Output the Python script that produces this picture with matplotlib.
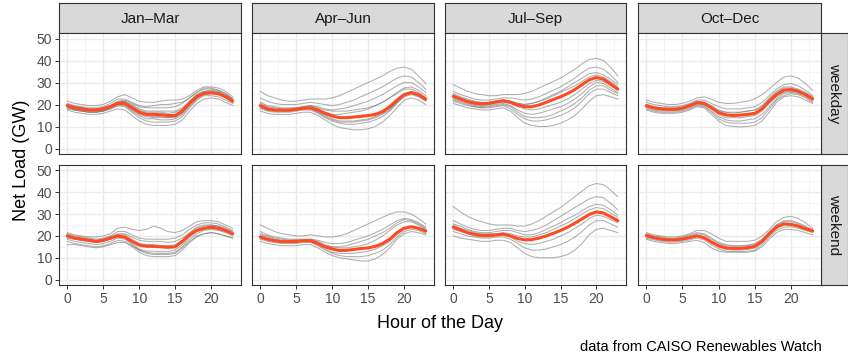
import matplotlib.pyplot as plt
from matplotlib.ticker import MultipleLocator

plt.rcParams['font.family'] = ['Liberation Sans', 'DejaVu Sans']

hours = list(range(24))
quarters = ['Jan\u2013Mar', 'Apr\u2013Jun', 'Jul\u2013Sep', 'Oct\u2013Dec']
day_types = ['weekday', 'weekend']

# mean net load per hour (red line)
jan_mar_weekday_mean = [19.5, 18.5, 18, 17.5, 17.5, 18, 19, 20.5, 20.5, 18.5, 16.5, 15.5, 15.5, 15.3, 15, 15, 17, 20.5, 23.5, 25, 25.3, 25, 23.5, 21.5]
jan_mar_weekend_mean = [20, 19, 18.5, 18, 17.5, 18, 19, 20, 19.5, 17.5, 15.8, 15.3, 15.2, 15, 14.8, 15, 17.5, 20.5, 22.5, 23.5, 24, 23.5, 22.5, 21]
apr_jun_weekday_mean = [19.5, 18, 17.5, 17.5, 17.5, 17.8, 18.3, 18.5, 17.5, 16, 14.8, 14, 14, 14.3, 14.6, 15, 15.5, 16.8, 19, 22, 24.5, 25.5, 24.5, 22.5]
apr_jun_weekend_mean = [19.5, 18.5, 17.8, 17.4, 17.4, 17.5, 17.8, 17.8, 16.5, 15, 14, 13.3, 13.4, 13.8, 14.2, 14.5, 15.2, 16.5, 18.5, 21.5, 23.5, 24.2, 23.5, 22.3]
jul_sep_weekday_mean = [23.7, 22.5, 21.3, 20.6, 20.3, 20.5, 21.2, 21.7, 21, 19.8, 19, 19, 19.8, 21, 22.3, 23.5, 25, 26.8, 29, 31.2, 32.3, 31.5, 29.3, 27]
jul_sep_weekend_mean = [24, 22.8, 21.5, 20.7, 20.2, 20.2, 20.5, 20.8, 20, 18.8, 18.2, 18.3, 19, 20, 21.2, 22.5, 24, 25.8, 27.8, 29.8, 31, 30.5, 28.8, 27]
oct_dec_weekday_mean = [19.4, 18.5, 18, 17.8, 17.8, 18.3, 19.5, 20.8, 20.5, 18.5, 16.3, 15.3, 15, 15.2, 15.5, 16, 18, 21.5, 24.5, 26.5, 26.8, 26, 24.5, 22.6]
oct_dec_weekend_mean = [20.2, 19.2, 18.6, 18.2, 18.2, 18.6, 19.3, 20, 19.2, 17.2, 15.5, 14.5, 14.3, 14.3, 14.6, 15.2, 17.5, 21, 24, 25.5, 25.3, 24.5, 23.3, 22.3]

# individual days (grey lines)
jan_mar_weekday_days = [
    [21.5, 20.5, 20, 19.5, 19.5, 20, 21.5, 23.5, 24.5, 23, 21.5, 21, 21, 21.5, 22, 22, 22.5, 24, 26.5, 28, 28, 27.5, 26, 23.5],
    [20.5, 19.5, 19, 18.5, 18.5, 19, 20.5, 22.5, 22.5, 20.5, 19, 18.5, 18.5, 18.5, 18.5, 19, 20.5, 23, 25.5, 27, 27, 26.5, 25, 22.5],
    [19.5, 18.5, 18, 17.5, 17.5, 18, 19.5, 21, 21, 19, 17, 16, 16, 15.8, 15.5, 15.5, 17.5, 21, 24, 25.5, 25.5, 25, 23.5, 21.5],
    [19, 18, 17.5, 17, 17, 17.5, 18.5, 20, 20, 18, 16, 15, 14.5, 14.5, 14, 14.5, 16.5, 20, 23, 24.5, 25, 24.5, 23, 21],
    [18, 17.5, 17, 16.5, 16.5, 17, 18, 19.5, 19, 16.5, 14, 12.5, 12, 12, 12, 12.5, 14.5, 18.5, 22, 24, 24, 23.5, 22, 20.5],
    [17.5, 16.5, 16, 15.5, 15.5, 16, 17, 18, 17.5, 15, 12.5, 11, 10.5, 10.5, 10.5, 11, 13, 17, 20.5, 22.5, 23, 22.5, 21, 19.5],
    [20, 19, 18.5, 18, 18, 18.5, 19.5, 21, 21.5, 20, 18, 17, 17, 17, 17, 17, 18.5, 21.5, 24.5, 26, 26.5, 26, 24.5, 22.5],
    [18.5, 17.5, 17, 16.5, 16.5, 17, 18, 19.5, 19.5, 17, 15, 13.5, 13.5, 13, 13, 13.5, 15.5, 19, 22.5, 25, 25.5, 25, 23.5, 21.5],
    [19, 18, 17.5, 17, 17, 17.5, 19, 21, 21.5, 19.5, 17.5, 16.5, 16.5, 16.5, 16, 16.5, 18, 21.5, 24.5, 26, 26, 25.5, 24, 22],
    [18.5, 17.5, 17, 16.5, 16.5, 17, 18.5, 20.5, 20, 17.5, 15.5, 14.5, 14, 14, 14, 14, 16, 20, 23.5, 25.5, 26, 25.5, 24, 22],
    [20, 19, 18.5, 18, 18, 18.5, 19.5, 21.5, 22, 21, 19.5, 19, 19.5, 20, 20, 20.5, 21, 23, 25.5, 27.5, 27.5, 26.5, 25, 22.5],
]
jan_mar_weekend_days = [
    [21.5, 20.5, 20, 19.5, 19.5, 20, 21, 23.5, 24, 23, 22.5, 23, 24.5, 23.5, 22, 21.5, 22.5, 24.5, 26.5, 27, 27, 26.5, 25, 23.5],
    [21, 20, 19.5, 19, 18.5, 19, 20, 22, 22, 20.5, 19, 18.5, 18.5, 18.5, 18.5, 19, 20.5, 23, 25, 26, 26, 25.5, 24, 22.5],
    [20, 19, 18.5, 18, 17.5, 18, 19, 20, 19.5, 17.5, 15.5, 15, 15, 14.8, 14.5, 15, 17, 20.5, 22.5, 23.5, 24, 23.5, 22.5, 21],
    [19, 18.5, 18, 17.5, 17, 17.5, 18.5, 19.5, 19, 16.5, 14, 13, 13, 12.8, 12.8, 13.5, 16, 19.5, 22, 23, 23.5, 23, 22, 20.5],
    [17.5, 16.5, 16, 15.5, 15, 15.5, 16.5, 18, 17.5, 15, 12.5, 11, 10.5, 10.5, 10.5, 11, 13.5, 17, 19.5, 21, 21.5, 21, 20, 19],
    [16, 16, 15.5, 15, 14.5, 15, 16, 17, 17, 15.5, 13.5, 12, 11.5, 11.5, 11.5, 12, 14.5, 17.5, 20, 21, 21.5, 21, 20, 19],
    [20.5, 19.5, 19, 18.5, 18, 18.5, 19.5, 21, 21, 19.5, 18, 17.5, 17.5, 17.5, 17, 17.5, 19, 21.5, 24, 25, 25, 24.5, 23.5, 22],
    [19.5, 18.5, 18, 17.5, 17, 17.5, 18.5, 20.5, 20.5, 18.5, 16.5, 16, 16, 15.5, 15.5, 16, 18, 21, 23.5, 24.5, 25, 24.5, 23, 21.5],
    [18.5, 17.5, 17, 16.5, 16, 16.5, 17.5, 19, 18.5, 16, 13.5, 12.5, 12, 12, 12, 12.5, 15, 18.5, 21, 22.5, 23, 22.5, 21.5, 20],
]
apr_jun_weekday_days = [
    [26, 24, 23, 22, 21.5, 21.5, 22, 22.5, 22.5, 22.5, 23, 24, 25.5, 27, 28.5, 30, 31.5, 33, 35, 36.5, 37, 36, 33, 29.5],
    [23, 21.5, 20.5, 20, 20, 20, 20.5, 21, 20.5, 20, 19.5, 20, 21, 22, 23.5, 25, 26.5, 28, 30, 32, 33, 32.5, 30, 27],
    [21, 19.5, 19, 18.5, 18.5, 18.5, 19, 19.5, 18.5, 17.5, 17, 17, 17, 17.5, 18, 18.5, 19.5, 21, 23, 25.5, 27.5, 28, 26.5, 24],
    [19.5, 18, 17.5, 17.5, 17.5, 17.8, 18.3, 18.5, 17, 15.5, 14.5, 14, 14, 14, 14.5, 15, 15.5, 16.5, 18.5, 21.5, 24.5, 25.5, 24.5, 22.5],
    [18, 17, 16.5, 16.5, 16.5, 17, 17.5, 17.5, 16, 14, 12.5, 11.5, 11, 11, 11.5, 12, 13, 14.5, 17, 20.5, 23.5, 24.5, 23.5, 21.5],
    [17, 16, 15.5, 15.5, 15.5, 16, 16.5, 16.5, 15, 13, 11, 9.5, 9, 8.5, 8.5, 9, 10, 12, 15, 18.5, 22, 23, 22, 20],
    [20, 18.5, 18, 17.5, 17.5, 18, 18.5, 19, 18, 16.5, 15.5, 15.5, 16, 16.5, 17, 18, 19.5, 21, 23, 25, 27, 27, 25.5, 23],
    [19, 17.5, 17, 17, 17, 17.5, 18, 18, 16.5, 15, 13.5, 12.5, 12.5, 12.5, 13, 13.5, 14.5, 16, 18, 21, 24, 25, 24, 22],
    [20.5, 19, 18.5, 18, 18, 18.5, 19, 19.5, 19, 18, 17.5, 18, 18.5, 19.5, 20.5, 21.5, 23, 24.5, 26.5, 28.5, 30, 30, 28, 25.5],
    [18.5, 17.5, 17, 17, 17, 17.5, 18, 18, 16.5, 14.5, 13, 12, 12, 12, 12.5, 13, 14, 15.5, 17.5, 21, 24, 25, 24, 22],
]
apr_jun_weekend_days = [
    [25, 23.5, 22, 21, 20.5, 20, 20, 20.5, 20, 19.5, 19.5, 20, 21, 22.5, 24, 25.5, 27, 28.5, 30, 31, 31, 30, 28, 25.5],
    [22, 20.5, 19.5, 19, 18.5, 18.5, 18.5, 18.5, 18, 17, 16.5, 16.5, 17, 18, 19, 20, 21.5, 23, 25, 27, 28, 27.5, 26, 24],
    [19.5, 18.5, 17.8, 17.4, 17.4, 17.5, 17.8, 17.8, 16.5, 15, 14, 13.3, 13.4, 13.8, 14.2, 14.5, 15.2, 16.5, 18.5, 21.5, 23.5, 24.2, 23.5, 22.3],
    [18.5, 17.5, 17, 16.5, 16.5, 16.5, 17, 17, 15.5, 13.5, 12, 11, 10.5, 10.5, 10.5, 11, 12, 13.5, 16, 19.5, 22, 23, 22.5, 21],
    [17.5, 16.5, 16, 15.5, 15.5, 15.5, 16, 16, 14.5, 12.5, 11, 10, 9.5, 9, 8.5, 8.5, 9.5, 11.5, 14.5, 18.5, 21, 22, 21.5, 20.5],
    [20.5, 19.5, 18.5, 18, 18, 18, 18, 18.5, 17.5, 16, 15, 14.5, 14.5, 15, 15.5, 16.5, 18, 20, 22.5, 25, 26.5, 26.5, 25, 23],
    [19, 18, 17.5, 17, 17, 17, 17.5, 17.5, 16, 14, 12.5, 12, 12, 12, 12.5, 13, 14, 15.5, 17.5, 20.5, 23, 24, 23, 21.5],
    [21, 20, 19, 18.5, 18, 18, 18, 18, 17, 15.5, 15, 15, 15.5, 16.5, 17.5, 18.5, 20, 21.5, 23.5, 26, 27.5, 27, 25.5, 23.5],
]
jul_sep_weekday_days = [
    [29, 27.5, 26, 25, 24.5, 24, 24, 24.5, 24.5, 24.5, 25, 26, 27.5, 29, 30.5, 32, 34, 36, 38.5, 40.5, 41, 40, 37, 33],
    [26, 24.5, 23.5, 22.5, 22, 22, 22.5, 23, 23, 22.5, 22, 22.5, 23.5, 25, 26.5, 28, 30, 32, 34.5, 36.5, 37, 36, 33.5, 30],
    [23.7, 22.5, 21.3, 20.6, 20.3, 20.5, 21.2, 21.7, 21, 19.8, 19, 19, 19.8, 21, 22.3, 23.5, 25, 26.8, 29, 31.2, 32.3, 31.5, 29.3, 27],
    [22.5, 21.5, 20.5, 19.5, 19, 19.5, 20, 20.5, 19.5, 17.5, 16, 15.5, 16, 17, 18, 19, 20.5, 22.5, 25, 28, 30, 29.5, 27.5, 25.5],
    [21.5, 20.5, 19.5, 19, 18.5, 18.5, 19, 19.5, 18, 15.5, 13.5, 12.5, 12.5, 13, 14, 15, 16.5, 18.5, 21.5, 25, 27, 27, 25.5, 24],
    [20.5, 19.5, 18.5, 18, 17.5, 17.5, 18, 18.5, 17, 14, 11.5, 10.5, 10, 10, 10.5, 11.5, 13, 15, 18, 21.5, 24, 24.5, 23.5, 22.5],
    [25, 23.5, 22.5, 21.5, 21, 21, 21.5, 22, 21.5, 20.5, 20, 20.5, 21.5, 23, 24.5, 26, 28, 30, 32, 34, 34.5, 33.5, 31.5, 29],
    [23, 22, 21, 20, 19.5, 20, 20.5, 21, 20.5, 19, 18, 17.5, 18, 19, 20, 21, 22.5, 24.5, 27, 29.5, 31, 30.5, 28.5, 26.5],
    [24.5, 23, 22, 21, 20.5, 21, 21.5, 22, 21.5, 20.5, 20, 20.5, 21.5, 22.5, 24, 25.5, 27, 28.5, 30.5, 32.5, 33.5, 32.5, 30.5, 28],
    [22, 21, 20, 19, 18.5, 19, 19.5, 20, 19, 16.5, 14.5, 14, 14, 14.5, 15.5, 17, 18.5, 20.5, 23, 26.5, 28.5, 28.5, 26.5, 25],
]
jul_sep_weekend_days = [
    [33.5, 31, 29, 27.5, 26.5, 25.5, 25, 25, 25, 24.5, 24.5, 25.5, 27, 29, 31, 33, 35.5, 38, 40.5, 43, 44, 43.5, 41, 38],
    [27, 25.5, 24, 23, 22.5, 22.5, 23, 23.5, 23.5, 22.5, 22, 22.5, 23.5, 25, 27, 29, 31, 33, 35, 37, 38, 37.5, 35, 32],
    [24, 22.8, 21.5, 20.7, 20.2, 20.2, 20.5, 20.8, 20, 18.8, 18.2, 18.3, 19, 20, 21.2, 22.5, 24, 25.8, 27.8, 29.8, 31, 30.5, 28.8, 27],
    [22, 21, 20, 19.5, 19, 19, 19.5, 19.5, 18.5, 16.5, 14.5, 13.5, 13.5, 14, 15, 16, 17.5, 19.5, 22, 25, 27, 27, 25.5, 24],
    [20, 19, 18.5, 18, 17.5, 17.5, 18, 18, 17, 14.5, 12, 10.5, 10, 10, 10, 10.5, 11.5, 13.5, 16.5, 20.5, 23, 23.5, 22.5, 21.5],
    [25.5, 24.5, 23, 22, 21.5, 21.5, 22, 22.5, 22.5, 21.5, 20.5, 20.5, 21.5, 23, 24.5, 26, 28, 29.5, 31.5, 33.5, 34.5, 34, 32, 29.5],
    [23, 22, 21, 20, 19.5, 19.5, 20, 20.5, 19.5, 17.5, 16.5, 16, 16.5, 17.5, 18.5, 20, 21.5, 23.5, 25.5, 28, 29.5, 29, 27.5, 26],
    [25, 23.5, 22.5, 21.5, 21, 21, 21, 21.5, 21, 20, 19.5, 19.5, 20.5, 21.5, 23, 24.5, 26, 28, 30, 32, 33, 32.5, 30.5, 28.5],
]
oct_dec_weekday_days = [
    [22, 21, 20.5, 20, 20, 20.5, 21.5, 23, 23.5, 22.5, 21, 20.5, 20.5, 21, 21.5, 22.5, 24.5, 27, 30, 32.5, 33, 32, 29.5, 26.5],
    [21, 20, 19.5, 19, 19, 19.5, 20.5, 22, 22, 20.5, 19, 18, 18, 18, 18.5, 19, 21, 24, 27, 29, 29.5, 28.5, 26.5, 24],
    [19.4, 18.5, 18, 17.8, 17.8, 18.3, 19.5, 20.8, 20.5, 18.5, 16.3, 15.3, 15, 15.2, 15.5, 16, 18, 21.5, 24.5, 26.5, 26.8, 26, 24.5, 22.6],
    [18.5, 17.5, 17, 17, 17, 17.5, 18.5, 20, 19.5, 17, 14.5, 13, 12.5, 12.5, 13, 13.5, 15.5, 19, 22.5, 25, 25.5, 25, 23.5, 21.5],
    [17.5, 16.5, 16, 16, 16, 16.5, 17.5, 19, 18.5, 15.5, 12.5, 10.5, 10, 9.8, 10, 10.5, 12.5, 16.5, 21, 23.5, 24, 23.5, 22, 20.5],
    [20, 19, 18.5, 18.5, 18.5, 19, 20, 21.5, 21, 19.5, 17.5, 16.5, 16.5, 16.5, 17, 17.5, 19.5, 23, 26, 28, 28, 27, 25.5, 23.5],
    [19, 18, 17.5, 17.5, 17.5, 18, 19, 20.5, 20, 18, 15.5, 14, 14, 14, 14.5, 15, 17, 20.5, 23.5, 25.5, 26, 25.5, 24, 22],
    [20, 19, 18.5, 18, 18, 18.5, 19.5, 21, 21, 19, 17, 16.5, 16, 16.5, 17, 17.5, 19, 22.5, 25.5, 27.5, 27.5, 26.5, 25, 23],
    [18, 17, 16.5, 16.5, 16.5, 17, 18, 19.5, 19, 16.5, 13.5, 12, 11.5, 11.5, 11.5, 12, 14, 18, 22, 24, 25, 24.5, 23, 21],
]
oct_dec_weekend_days = [
    [21.5, 20.5, 20, 19.5, 19.5, 20, 21, 22.5, 22.5, 21, 19, 17.5, 17.5, 17.5, 17.5, 18, 20, 23, 26.5, 28.5, 29, 28, 26, 23.5],
    [20.2, 19.2, 18.6, 18.2, 18.2, 18.6, 19.3, 20, 19.2, 17.2, 15.5, 14.5, 14.3, 14.3, 14.6, 15.2, 17.5, 21, 24, 25.5, 25.3, 24.5, 23.3, 22.3],
    [19, 18.2, 17.6, 17.2, 17.2, 17.6, 18.2, 19, 18.2, 16, 14, 13, 12.8, 12.8, 13, 13.5, 16, 19.5, 22.5, 24, 24.2, 23.5, 22.5, 21.5],
    [18.5, 17.5, 17, 16.5, 16.5, 17, 17.5, 18, 17, 14.5, 13, 12.5, 12.5, 12.5, 12.5, 13, 15, 18.5, 21.5, 23, 23, 22.5, 21.5, 20.5],
    [21, 20, 19.5, 19, 19, 19.5, 20.5, 21.5, 21, 19, 17, 16, 15.5, 15.5, 15.8, 16.5, 18.5, 22, 25, 26.5, 26.5, 25.5, 24, 22.5],
    [19.5, 18.7, 18, 17.7, 17.7, 18, 18.8, 19.8, 19, 16.8, 14.8, 13.8, 13.5, 13.5, 13.8, 14.5, 16.8, 20.5, 23.5, 25, 25, 24.5, 23, 22],
    [20.5, 19.5, 19, 18.5, 18.5, 19, 20, 21, 20.5, 18.5, 16.5, 15.5, 15.3, 15.3, 15.5, 16, 18, 21.5, 25, 27, 27, 26, 24.5, 22.8],
]

means = {
    ('weekday', 0): jan_mar_weekday_mean, ('weekend', 0): jan_mar_weekend_mean,
    ('weekday', 1): apr_jun_weekday_mean, ('weekend', 1): apr_jun_weekend_mean,
    ('weekday', 2): jul_sep_weekday_mean, ('weekend', 2): jul_sep_weekend_mean,
    ('weekday', 3): oct_dec_weekday_mean, ('weekend', 3): oct_dec_weekend_mean,
}
days = {
    ('weekday', 0): jan_mar_weekday_days, ('weekend', 0): jan_mar_weekend_days,
    ('weekday', 1): apr_jun_weekday_days, ('weekend', 1): apr_jun_weekend_days,
    ('weekday', 2): jul_sep_weekday_days, ('weekend', 2): jul_sep_weekend_days,
    ('weekday', 3): oct_dec_weekday_days, ('weekend', 3): oct_dec_weekend_days,
}

W, H = 848, 360
fig = plt.figure(figsize=(W / 100, H / 100), dpi=100)

def box(x0, y0, x1, y1):
    # pixel box (top-left origin) -> figure fraction
    return [x0 / W, 1 - y1 / H, (x1 - x0) / W, (y1 - y0) / H]

panel_x = [(59, 241), (252, 434), (445, 626), (638, 821)]
panel_y = [(33, 154), (165, 285)]
strip_col = '#D9D9D9'
edge = '#333333'

for c, (x0, x1) in enumerate(panel_x):
    st = fig.add_axes(box(x0, 3, x1, 33))
    st.set_facecolor(strip_col)
    st.set_xticks([]); st.set_yticks([])
    for s in st.spines.values():
        s.set_color(edge); s.set_linewidth(0.8)
    st.text(0.5, 0.47, quarters[c], ha='center', va='center', fontsize=11,
            color='#1A1A1A', transform=st.transAxes)

for r, (y0, y1) in enumerate(panel_y):
    st = fig.add_axes(box(821, y0, 848, y1))
    st.set_facecolor(strip_col)
    st.set_xticks([]); st.set_yticks([])
    for s in st.spines.values():
        s.set_color(edge); s.set_linewidth(0.8)
    st.text(0.5, 0.5, day_types[r], ha='center', va='center', fontsize=11,
            rotation=-90, color='#1A1A1A', transform=st.transAxes)

    for c, (x0, x1) in enumerate(panel_x):
        ax = fig.add_axes(box(x0, y0, x1, y1))
        key = (day_types[r], c)
        for d in days[key]:
            ax.plot(hours, d, color='#7A7A7A', alpha=0.6, lw=0.75)
        ax.plot(hours, means[key], color='#FF4A1F', lw=2.2, solid_capstyle='round')
        ax.set_xlim(-1.15, 24.15)
        ax.set_ylim(-2.5, 52.5)
        ax.xaxis.set_major_locator(MultipleLocator(5))
        ax.xaxis.set_minor_locator(MultipleLocator(2.5))
        ax.yaxis.set_major_locator(MultipleLocator(10))
        ax.yaxis.set_minor_locator(MultipleLocator(5))
        ax.grid(which='major', color='#EBEBEB', lw=1.0)
        ax.grid(which='minor', color='#F2F2F2', lw=0.6)
        ax.set_axisbelow(True)
        ax.tick_params(which='minor', length=0)
        ax.tick_params(which='major', length=3, color=edge, width=0.7,
                       labelsize=10, labelcolor='#4D4D4D', pad=2)
        for s in ax.spines.values():
            s.set_color(edge); s.set_linewidth(0.8)
        if c > 0:
            ax.tick_params(axis='y', labelleft=False, length=0)
        if r == 0:
            ax.tick_params(axis='x', labelbottom=False, length=0)

fig.text(22 / W, 1 - 160 / H, 'Net Load (GW)', rotation=90, ha='center', va='center',
         fontsize=13, color='black')
fig.text(440 / W, 1 - 323 / H, 'Hour of the Day', ha='center', va='center',
         fontsize=13, color='black')
fig.text(822 / W, 1 - 347 / H, 'data from CAISO Renewables Watch', ha='right', va='center',
         fontsize=10.5, color='black')

fig.savefig('out.png', dpi=100)
